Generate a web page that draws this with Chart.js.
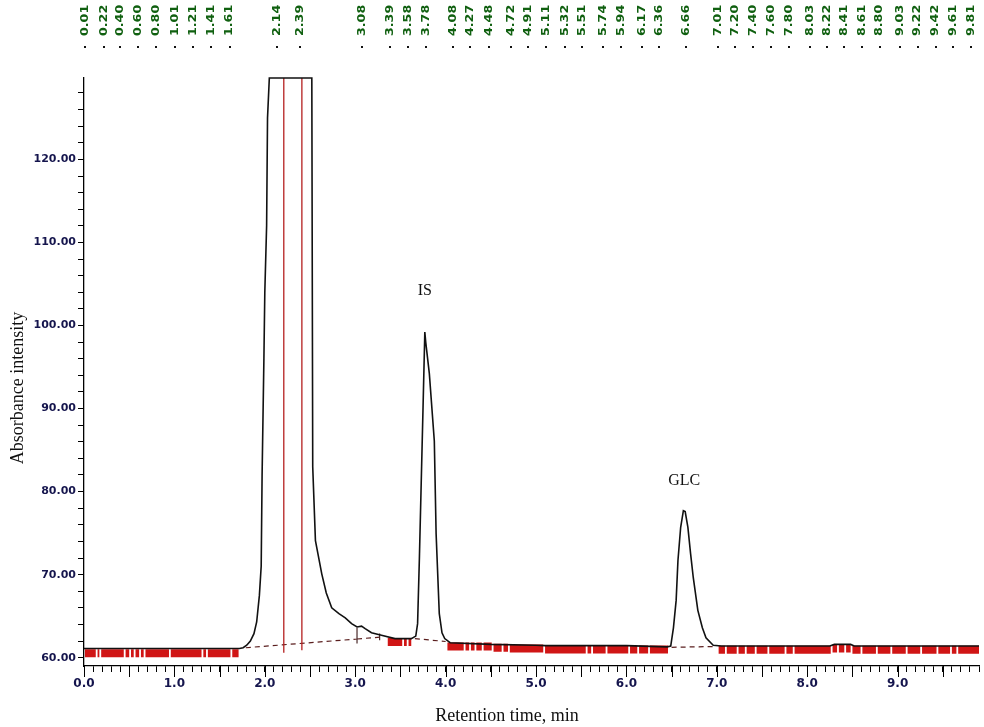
<!DOCTYPE html>
<html>
<head>
<meta charset="utf-8">
<title>Chromatogram</title>
<script src="https://cdn.jsdelivr.net/npm/chart.js@4.4.0/dist/chart.umd.min.js"></script>
<style>
  html, body { margin: 0; padding: 0; background: #fff; }
  #wrap { width: 984px; height: 727px; position: relative; }
</style>
</head>
<body>
<div id="wrap"><canvas id="chrom"></canvas></div>
<script>
// detector trace (time in min, absorbance)
const traceTime = [0.00, 0.60, 1.20, 1.72, 1.76, 1.80, 1.84, 1.88, 1.91, 1.94, 1.96, 1.97, 1.99, 2.00, 2.02, 2.03, 2.05,
  2.52, 2.53, 2.56, 2.60, 2.63, 2.68, 2.74, 2.82, 2.89, 2.96, 3.02, 3.07, 3.11, 3.18, 3.29, 3.44, 3.62, 3.67,
  3.69, 3.71, 3.73, 3.75, 3.77, 3.78, 3.82, 3.875, 3.895, 3.93, 3.96, 3.99, 4.05, 4.50, 5.00,
  5.10, 6.00, 6.45, 6.49, 6.52, 6.55, 6.57, 6.60, 6.63, 6.65, 6.68, 6.71, 6.74, 6.79, 6.84, 6.88, 6.96, 7.05,
  8.25, 8.30, 8.48, 8.52, 9.90];
const traceValue = [61.1, 61.1, 61.1, 61.1, 61.2, 61.5, 62.0, 62.9, 64.3, 67.5, 71.0, 82.0, 96.0, 104.0, 112.0, 125.0, 129.8,
  129.8, 83.0, 74.1, 71.8, 70.1, 67.8, 66.0, 65.3, 64.8, 64.1, 63.7, 63.8, 63.5, 63.0, 62.7, 62.3, 62.3, 62.6,
  64.1, 72.0, 81.0, 90.0, 99.2, 98.0, 94.2, 86.1, 74.9, 65.3, 63.0, 62.3, 61.8, 61.6, 61.5,
  61.45, 61.45, 61.3, 61.4, 63.6, 66.9, 71.7, 75.7, 77.7, 77.6, 75.7, 72.5, 69.6, 65.7, 63.6, 62.4, 61.5, 61.4,
  61.4, 61.6, 61.6, 61.4, 61.4];

// red integration event band
const markStart = [0.01, 0.15, 0.19, 0.46, 0.52, 0.57, 0.63, 0.68, 0.96, 1.32, 1.37, 1.64,
  3.36, 3.54, 3.59,
  4.02, 4.22, 4.28, 4.34, 4.42, 4.53, 4.64, 4.71, 5.10, 5.57, 5.63, 5.79, 6.04, 6.14, 6.26,
  7.02, 7.11, 7.24, 7.33, 7.44, 7.58, 7.77, 7.86, 8.28, 8.35, 8.43, 8.50, 8.61, 8.78, 8.94, 9.11, 9.27, 9.45, 9.60, 9.67];
const markEnd = [0.13, 0.17, 0.44, 0.50, 0.55, 0.61, 0.66, 0.94, 1.30, 1.35, 1.62, 1.71,
  3.52, 3.57, 3.62,
  4.20, 4.26, 4.32, 4.40, 4.51, 4.62, 4.69, 5.08, 5.55, 5.61, 5.77, 6.02, 6.12, 6.24, 6.46,
  7.09, 7.22, 7.31, 7.42, 7.56, 7.75, 7.84, 8.26, 8.33, 8.41, 8.48, 8.59, 8.76, 8.92, 9.09, 9.25, 9.43, 9.58, 9.65, 9.90];
const markLevel = [60.55, 60.55, 60.55, 60.55, 60.55, 60.55, 60.55, 60.55, 60.55, 60.55, 60.55, 60.55,
  61.9, 61.9, 61.9,
  61.35, 61.35, 61.35, 61.35, 61.35, 61.2, 61.2, 61.1, 61.0, 61.0, 61.0, 61.0, 61.0, 61.0, 61.0,
  60.95, 60.95, 60.95, 60.95, 60.95, 60.95, 60.95, 60.95, 61.1, 61.1, 61.1, 60.95, 60.95, 60.95, 60.95, 60.95, 60.95, 60.95, 60.95, 60.95];

// dashed integration baselines
const baseStartTime = [1.79, 3.02, 3.66, 6.50];
const baseStartValue = [61.2, 62.25, 62.3, 61.25];
const baseEndTime = [3.02, 3.30, 4.00, 6.98];
const baseEndValue = [62.25, 62.5, 61.95, 61.35];

// peak split lines (red) and small drop markers (dark)
const splitTime = [2.21, 2.41];
const splitLow = [60.6, 60.9];
const splitHigh = [129.8, 129.8];
const dropTime = [3.02, 3.27];
const dropLow = [61.7, 62.1];
const dropHigh = [63.6, 62.9];

// retention times printed along the top
const peakTimes = [0.01, 0.22, 0.40, 0.60, 0.80, 1.01, 1.21, 1.41, 1.61, 2.14, 2.39, 3.08, 3.39, 3.58, 3.78,
  4.08, 4.27, 4.48, 4.72, 4.91, 5.11, 5.32, 5.51, 5.74, 5.94, 6.17, 6.36, 6.66, 7.01, 7.20, 7.40, 7.60, 7.80,
  8.03, 8.22, 8.41, 8.61, 8.80, 9.03, 9.22, 9.42, 9.61, 9.81];

// peak names
const peakNames = ['IS', 'GLC'];
const peakNameTime = [3.77, 6.64];
const peakNameValue = [104.2, 81.3];

const xMin = 0, xMax = 9.9, yMin = 59, yMax = 129.8;

function segments(t0, v0, t1, v1) {
  const pts = [];
  t0.forEach((t, i) => {
    if (i > 0) pts.push({ x: (t1[i - 1] + t) / 2, y: null });
    pts.push({ x: t, y: v0[i] });
    pts.push({ x: t1[i], y: v1[i] });
  });
  return pts;
}

const tracePoints = traceTime.map((t, i) => ({ x: t, y: traceValue[i] }));
const markPoints = segments(markStart, markLevel, markEnd, markLevel);
const basePoints = segments(baseStartTime, baseStartValue, baseEndTime, baseEndValue);
const splitPoints = segments(splitTime, splitLow, splitTime, splitHigh);
const dropPoints = segments(dropTime, dropLow, dropTime, dropHigh);

const overlay = {
  id: 'overlay',
  afterDraw(chart) {
    const { ctx, chartArea } = chart;
    const x = chart.scales.x, y = chart.scales.y;
    ctx.save();

    // longer ticks every half minute
    ctx.strokeStyle = '#000';
    ctx.lineWidth = 1;
    for (let t = xMin; t <= xMax + 1e-9; t += 0.5) {
      const px = Math.round(x.getPixelForValue(t)) + 0.5;
      ctx.beginPath();
      ctx.moveTo(px, chartArea.bottom);
      ctx.lineTo(px, chartArea.bottom + 11);
      ctx.stroke();
    }

    // top retention time labels
    ctx.font = 'bold 11px "DejaVu Sans"';
    ctx.textBaseline = 'middle';
    ctx.textAlign = 'left';
    peakTimes.forEach(t => {
      const px = x.getPixelForValue(t);
      ctx.fillStyle = '#111';
      ctx.fillRect(Math.round(px) - 1, 46, 2, 2);
      ctx.save();
      ctx.translate(px, 36);
      ctx.rotate(-Math.PI / 2);
      ctx.scale(1.15, 1);
      ctx.fillStyle = '#106010';
      ctx.fillText(t.toFixed(2), 0, 0);
      ctx.restore();
    });

    // peak names
    ctx.font = '16px "Liberation Serif"';
    ctx.textAlign = 'center';
    ctx.fillStyle = '#111';
    peakNames.forEach((name, i) => {
      ctx.fillText(name, x.getPixelForValue(peakNameTime[i]), y.getPixelForValue(peakNameValue[i]));
    });

    // axis titles
    ctx.font = '18px "Liberation Serif"';
    ctx.fillText('Retention time, min', 507, 716);
    ctx.save();
    ctx.translate(18, 388);
    ctx.rotate(-Math.PI / 2);
    ctx.fillText('Absorbance intensity', 0, 0);
    ctx.restore();

    ctx.restore();
  }
};

const line = (data, color, width, extra) => Object.assign({
  data: data,
  borderColor: color,
  borderWidth: width,
  pointRadius: 0,
  tension: 0,
  fill: false,
  spanGaps: false
}, extra || {});

new Chart(document.getElementById('chrom').getContext('2d'), {
  type: 'line',
  data: {
    datasets: [
      line(markPoints, '#d01515', 8, { borderCapStyle: 'butt', order: 5 }),
      line(basePoints, '#5a1e1e', 1.2, { borderDash: [5, 4], order: 4 }),
      line(splitPoints, '#b52020', 1.3, { order: 3 }),
      line(dropPoints, '#4a2a2a', 1.2, { order: 2 }),
      line(tracePoints, '#111', 1.6, { order: 1, clip: false })
    ]
  },
  options: {
    responsive: true,
    maintainAspectRatio: false,
    animation: false,
    layout: { padding: { top: 78, right: 0, left: 0, bottom: 0 } },
    plugins: { legend: { display: false }, tooltip: { enabled: false } },
    scales: {
      x: {
        type: 'linear',
        min: xMin,
        max: xMax,
        afterFit: s => { s.height = 61; },
        border: { display: true, color: '#000', width: 1.3 },
        grid: { drawOnChartArea: false, drawTicks: true, tickLength: 6, color: '#000' },
        ticks: {
          stepSize: 0.1,
          includeBounds: false,
          autoSkip: false,
          maxRotation: 0,
          padding: 5,
          color: '#15154d',
          font: { family: 'DejaVu Sans', weight: 'bold', size: 12 },
          callback: v => Math.abs(v - Math.round(v)) < 1e-6 ? v.toFixed(1) : ''
        }
      },
      y: {
        type: 'linear',
        min: yMin,
        max: yMax,
        afterFit: s => { s.width = 84; },
        afterBuildTicks: s => {
          s.ticks = s.ticks.filter(t => Math.abs(t.value / 2 - Math.round(t.value / 2)) < 1e-6);
        },
        border: { display: true, color: '#000', width: 1.3 },
        grid: { drawOnChartArea: false, drawTicks: true, tickLength: 6, color: '#000' },
        ticks: {
          stepSize: 2,
          includeBounds: false,
          autoSkip: false,
          padding: 2,
          color: '#15154d',
          font: { family: 'DejaVu Sans', weight: 'bold', size: 11 },
          callback: v => Math.abs(v / 10 - Math.round(v / 10)) < 1e-6 ? v.toFixed(2) : ''
        }
      }
    }
  },
  plugins: [overlay]
});
</script>
</body>
</html>
